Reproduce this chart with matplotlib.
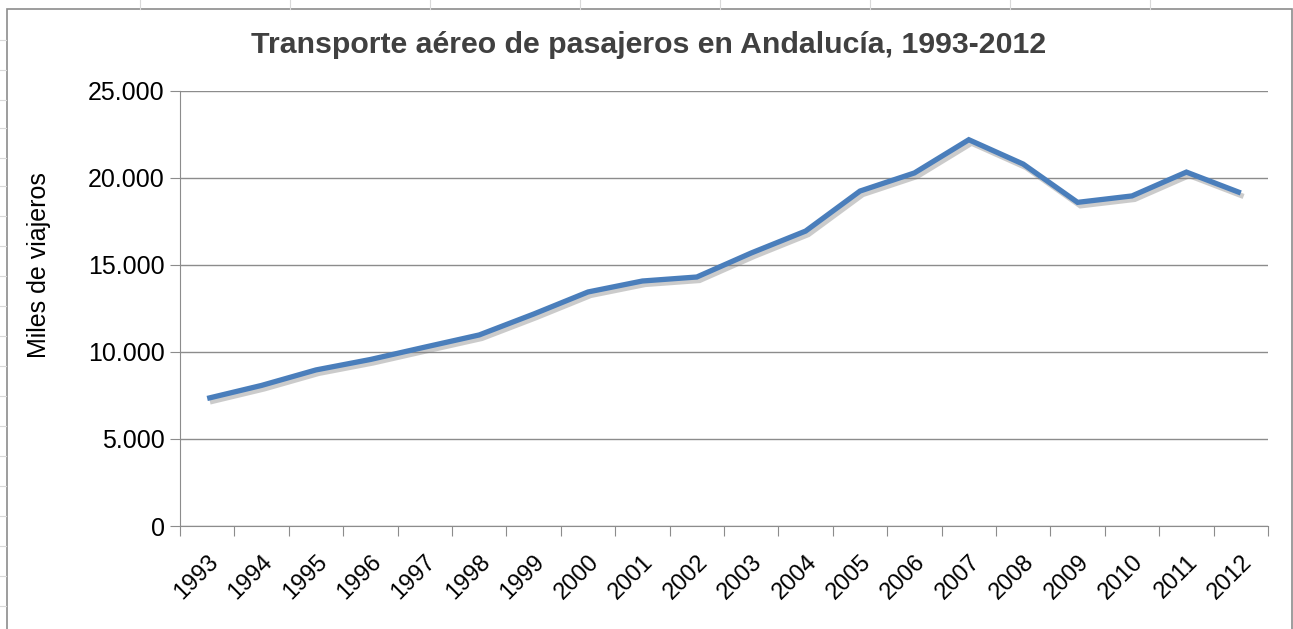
import matplotlib.pyplot as plt
import matplotlib.patheffects as pe
from matplotlib.ticker import FuncFormatter

# Data (thousands of passengers)
years = ["1993", "1994", "1995", "1996", "1997", "1998", "1999", "2000", "2001", "2002",
         "2003", "2004", "2005", "2006", "2007", "2008", "2009", "2010", "2011", "2012"]
viajeros = [7330, 8080, 8970, 9570, 10280, 10980, 12180, 13450, 14080, 14310,
            15690, 16950, 19250, 20290, 22200, 20800, 18600, 18970, 20340, 19140]

plt.rcParams["font.family"] = ["Liberation Sans", "DejaVu Sans"]

fig = plt.figure(figsize=(12.93, 6.29), dpi=100)

# faint spreadsheet grid behind the chart object
for x in [140, 290, 430, 580, 720, 870, 1010, 1150]:
    fig.add_artist(plt.Line2D([x / 1293, x / 1293], [1 - 9 / 629, 1], color="#d9d9d9", lw=0.8))
for y in [40, 70, 100, 128, 158, 186, 216, 246, 276, 306, 336, 366, 396, 426, 456, 486, 516, 546, 576, 606]:
    fig.add_artist(plt.Line2D([0, 6 / 1293], [1 - y / 629] * 2, color="#d9d9d9", lw=0.8))
fig.add_artist(plt.Rectangle((7 / 1293, -0.01), 1285 / 1293, 1 - 9 / 629 + 0.01,
                             fill=False, edgecolor="#8c8c8c", lw=1.2))

ax = fig.add_axes([180 / 1293, 1 - 526 / 629, 1088 / 1293, 435 / 629])

x = list(range(len(years)))
ax.plot(x, viajeros, color="#4a7ebb", lw=3.8, solid_joinstyle="miter", solid_capstyle="butt",
        path_effects=[pe.SimpleLineShadow(offset=(2, -2.5), shadow_color="#7f7f7f", alpha=0.4),
                      pe.Normal()])

ax.set_xlim(-0.5, len(years) - 0.5)
ax.set_ylim(0, 25000)
ax.set_yticks(range(0, 25001, 5000))
ax.yaxis.set_major_formatter(FuncFormatter(lambda v, p: f"{int(v):,}".replace(",", ".")))
ax.grid(axis="y", color="#8c8c8c", lw=1)
ax.set_axisbelow(True)

# ticks between categories, labels at categories
ax.set_xticks([i - 0.5 for i in range(len(years) + 1)])
ax.set_xticklabels([])
ax.set_xticks(x, minor=True)
ax.set_xticklabels(years, minor=True, rotation=45, ha="right", va="top",
                   rotation_mode="anchor", fontsize=17)
ax.tick_params(axis="x", which="minor", length=0, pad=18)
ax.tick_params(axis="x", which="major", length=7, color="#8c8c8c")
ax.tick_params(axis="y", length=7, color="#8c8c8c", labelsize=18, pad=4)

for s in ["top", "right"]:
    ax.spines[s].set_visible(False)
for s in ["left", "bottom"]:
    ax.spines[s].set_color("#8c8c8c")

fig.text(39 / 1293, 1 - 265 / 629, "Miles de viajeros", rotation=90,
         ha="center", va="center", fontsize=18)
fig.text(649 / 1293, 1 - 45 / 629, "Transporte aéreo de pasajeros en Andalucía, 1993-2012",
         ha="center", va="center", fontsize=21.8, fontweight="bold", color="#404040")

fig.savefig("out.png", dpi=100)
